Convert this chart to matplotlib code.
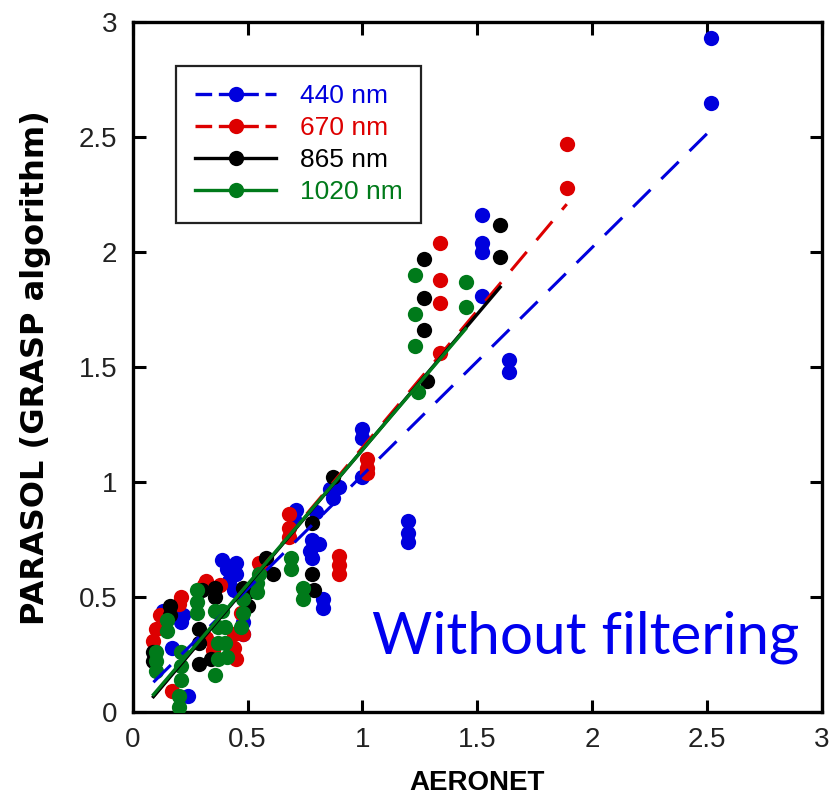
import numpy as np
import matplotlib
matplotlib.use('Agg')
import matplotlib.pyplot as plt
from matplotlib.lines import Line2D

plt.rcParams['font.family']=['Liberation Sans','DejaVu Sans']

# scatter values (AERONET, PARASOL)
x440=[0.13,0.21,0.17,0.24,0.22,0.39,0.41,0.45,0.45,0.42,0.44,0.48,0.48,0.71,0.70,0.77,0.78,0.78,0.80,0.81,
      0.83,0.83,0.86,0.87,0.90,1.00,1.00,1.00,1.20,1.20,1.20,1.52,1.52,1.52,1.52,1.64,1.64,2.52,2.52]
y440=[0.44,0.39,0.28,0.07,0.42,0.66,0.62,0.65,0.60,0.57,0.53,0.39,0.34,0.88,0.84,0.70,0.75,0.67,0.87,0.73,
      0.49,0.45,0.97,0.93,0.98,1.23,1.19,1.02,0.83,0.78,0.74,2.16,2.04,2.00,1.81,1.53,1.48,2.93,2.65]
x670=[0.09,0.10,0.12,0.21,0.20,0.17,0.32,0.31,0.38,0.35,0.32,0.44,0.44,0.45,0.47,0.48,0.55,0.56,0.68,0.68,
      0.68,0.90,0.90,0.90,1.02,1.02,1.02,1.34,1.34,1.34,1.34,1.89,1.89]
y670=[0.31,0.36,0.42,0.50,0.47,0.09,0.57,0.55,0.55,0.27,0.32,0.34,0.28,0.23,0.43,0.34,0.65,0.62,0.86,0.80,
      0.76,0.68,0.64,0.60,1.10,1.06,1.04,2.04,1.88,1.78,1.56,2.47,2.28]
x865=[0.09,0.09,0.16,0.16,0.29,0.29,0.29,0.30,0.34,0.36,0.36,0.48,0.50,0.50,0.58,0.61,0.78,0.78,0.79,0.87,
      1.27,1.27,1.27,1.28,1.60,1.60]
y865=[0.26,0.22,0.46,0.42,0.36,0.30,0.21,0.53,0.23,0.54,0.50,0.54,0.52,0.46,0.67,0.60,0.82,0.60,0.53,1.02,
      1.97,1.80,1.66,1.44,2.12,1.98]
x1020=[0.10,0.10,0.10,0.15,0.15,0.21,0.21,0.21,0.20,0.20,0.28,0.28,0.28,0.36,0.37,0.37,0.37,0.36,0.39,0.40,
       0.40,0.41,0.48,0.48,0.47,0.54,0.54,0.55,0.69,0.69,0.74,0.74,1.23,1.23,1.23,1.24,1.45,1.45]
y1020=[0.26,0.22,0.18,0.40,0.35,0.26,0.20,0.14,0.07,0.02,0.53,0.48,0.43,0.44,0.37,0.30,0.23,0.16,0.44,0.37,
       0.30,0.24,0.49,0.43,0.37,0.56,0.52,0.60,0.67,0.62,0.54,0.49,1.90,1.73,1.59,1.39,1.87,1.76]

# linear fits: slope, intercept, x range
slopes=[0.99,1.19,1.18,1.17]
intercepts=[0.04,-0.04,-0.04,-0.03]
xstart=[0.09,0.09,0.09,0.09]
xend=[2.52,1.89,1.60,1.45]

labels=['440 nm','670 nm','865 nm','1020 nm']
colors=['#0000dd','#dd0000','#000000','#007a1a']
styles=['dashed','dashed','solid','solid']
xs=[x440,x670,x865,x1020]
ys=[y440,y670,y865,y1020]

fig=plt.figure(figsize=(8.35,7.99),dpi=100)
ax=fig.add_axes([0.159,0.109,0.825,0.863])

for i in range(4):
    ax.plot(xs[i],ys[i],'o',color=colors[i],markersize=11,markeredgewidth=0,zorder=2+i)
handles=[]
for i in range(4):
    lx=np.array([xstart[i],xend[i]])
    ly=slopes[i]*lx+intercepts[i]
    if styles[i]=='dashed':
        ax.plot(lx,ly,color=colors[i],linewidth=2.2,dashes=(8,5),zorder=7)
        h=Line2D([],[],color=colors[i],linewidth=2.4,dashes=(5,2),marker='o',markersize=11,markeredgewidth=0)
    else:
        ax.plot(lx,ly,color=colors[i],linewidth=2.4,zorder=7)
        h=Line2D([],[],color=colors[i],linewidth=2.4,marker='o',markersize=11,markeredgewidth=0)
    handles.append(h)

leg=ax.legend(handles,labels,loc='upper left',bbox_to_anchor=(0.063,0.937),
              fancybox=False,edgecolor='#222222',framealpha=1,numpoints=1,handlelength=3.1,
              labelspacing=0.3,borderpad=0.7,handletextpad=0.9,borderaxespad=0,
              prop={'size':19})
leg.get_frame().set_linewidth(1.6)
for t,c in zip(leg.get_texts(),colors):
    t.set_color(c)

ax.text(1.04,0.255,'Without filtering',color='#0000ee',fontsize=42,family='Lato')

ax.set_xlim(0,3)
ax.set_ylim(0,3)
ax.set_xticks([0,0.5,1,1.5,2,2.5,3])
ax.set_xticklabels(['0','0.5','1','1.5','2','2.5','3'])
ax.set_yticks([0,0.5,1,1.5,2,2.5,3])
ax.set_yticklabels(['0','0.5','1','1.5','2','2.5','3'])
ax.tick_params(direction='in',length=9,width=2.2,top=True,right=True,labelsize=20,
               labelcolor='#222222',pad=11)
for s in ax.spines.values():
    s.set_linewidth(2.4)
ax.set_xlabel('AERONET',fontsize=20,fontweight='bold',labelpad=12)
ax.set_ylabel('PARASOL (GRASP algorithm)',fontsize=23,fontweight='bold',family='DejaVu Sans',labelpad=20)

plt.savefig('out.png',dpi=100)
